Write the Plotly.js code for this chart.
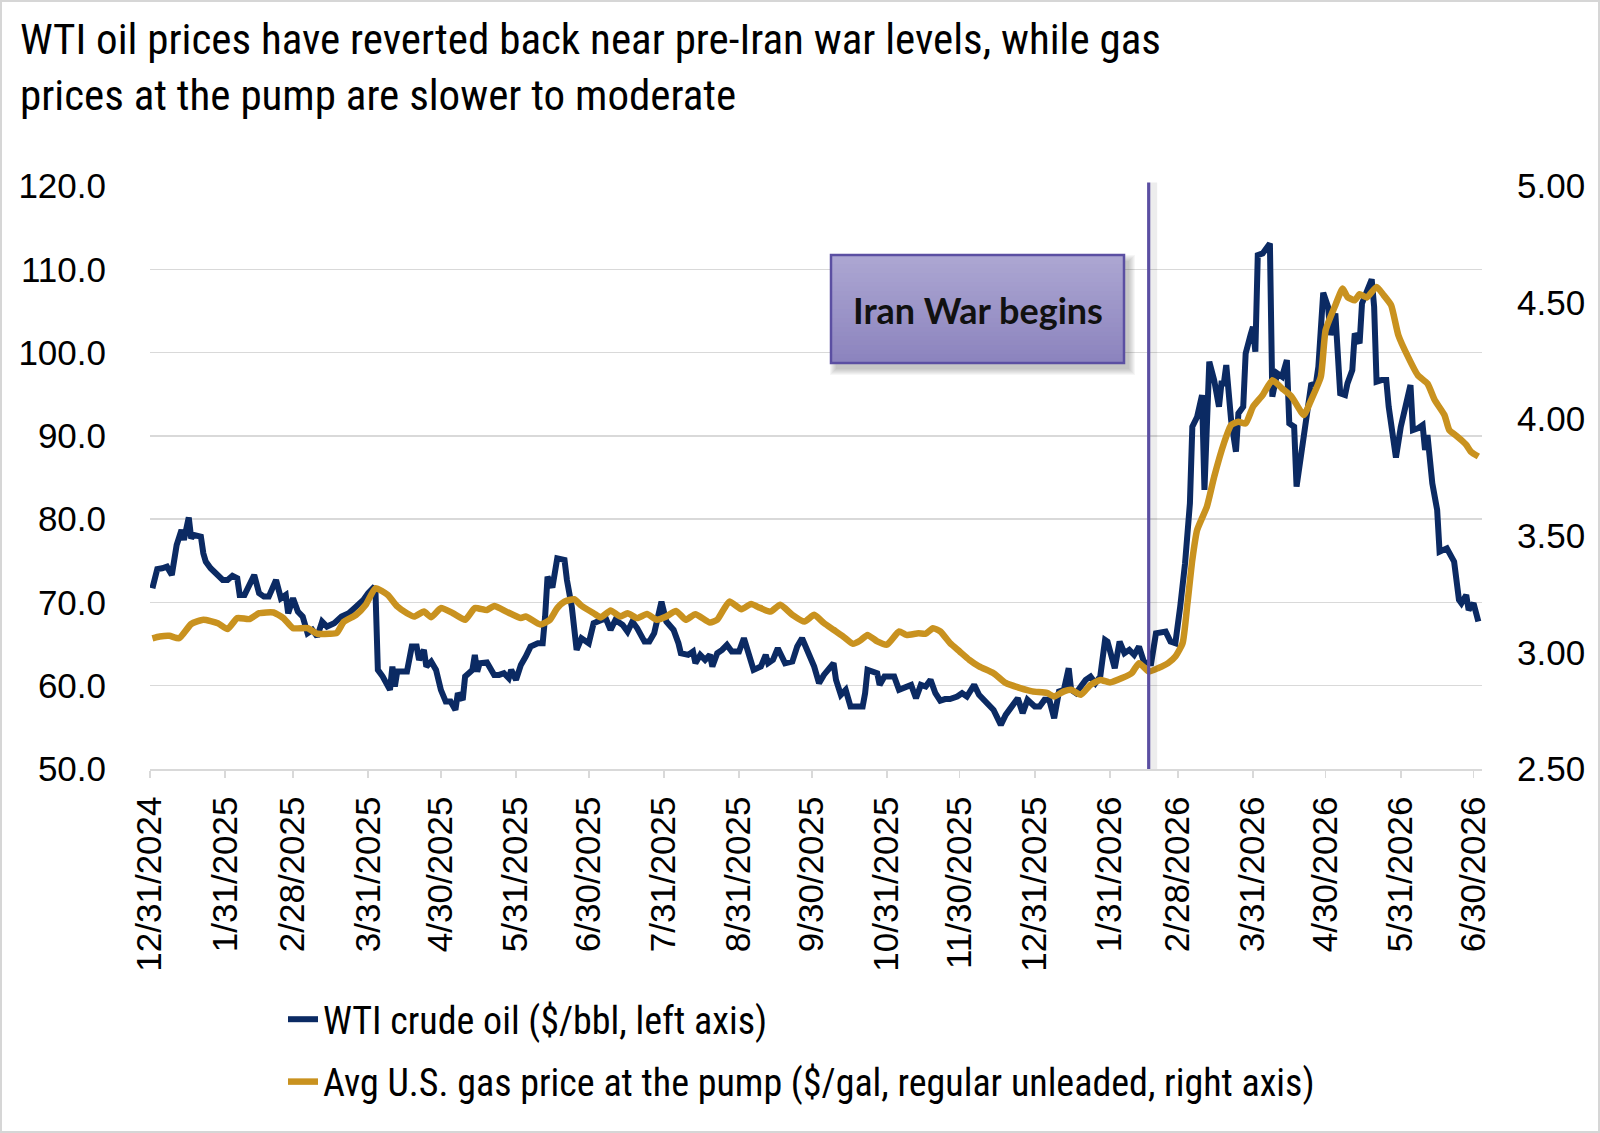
<!DOCTYPE html>
<html>
<head>
<meta charset="utf-8">
<script src="https://cdn.plot.ly/plotly-3.0.1.min.js"></script>
<style>
  html, body { margin: 0; padding: 0; background: #ffffff; overflow: hidden; }
  #wrap { position: relative; width: 1600px; height: 1133px; }
  #chart { width: 1600px; height: 1133px; }
  #frame { position: absolute; left: 0; top: 0; right: 0; bottom: 0; border: 2px solid #d6d6d6; pointer-events: none; }
</style>
</head>
<body>
<div id="wrap">
  <div id="chart"></div>
  <div id="frame"></div>
</div>
<script>
// WTI crude oil, $/bbl (left axis)
const wtiDates = [
  '2025-01-01','2025-01-03','2025-01-05','2025-01-07','2025-01-09','2025-01-11','2025-01-13','2025-01-14','2025-01-16','2025-01-17',
  '2025-01-18','2025-01-21','2025-01-22','2025-01-23','2025-01-25','2025-01-28','2025-01-30','2025-02-01','2025-02-03','2025-02-05',
  '2025-02-06','2025-02-08','2025-02-12','2025-02-14','2025-02-16','2025-02-18','2025-02-21','2025-02-23','2025-02-25','2025-02-26',
  '2025-02-28','2025-03-02','2025-03-04','2025-03-06','2025-03-08','2025-03-10','2025-03-12','2025-03-14','2025-03-17','2025-03-20',
  '2025-03-23','2025-03-26','2025-03-29','2025-03-31','2025-04-02','2025-04-03','2025-04-04','2025-04-06','2025-04-09','2025-04-10',
  '2025-04-11','2025-04-12','2025-04-16','2025-04-18','2025-04-20','2025-04-21','2025-04-23','2025-04-24','2025-04-26','2025-04-28',
  '2025-04-30','2025-05-02','2025-05-04','2025-05-06','2025-05-07','2025-05-09','2025-05-10','2025-05-13','2025-05-14','2025-05-15',
  '2025-05-16','2025-05-19','2025-05-22','2025-05-24','2025-05-26','2025-05-28','2025-05-29','2025-05-31','2025-06-02','2025-06-04',
  '2025-06-06','2025-06-09','2025-06-11','2025-06-12','2025-06-13','2025-06-15','2025-06-17','2025-06-20','2025-06-21','2025-06-23',
  '2025-06-25','2025-06-27','2025-06-30','2025-07-02','2025-07-05','2025-07-07','2025-07-09','2025-07-11','2025-07-14','2025-07-16',
  '2025-07-18','2025-07-20','2025-07-23','2025-07-25','2025-07-27','2025-07-29','2025-07-30','2025-08-01','2025-08-04','2025-08-06',
  '2025-08-07','2025-08-10','2025-08-12','2025-08-13','2025-08-15','2025-08-17','2025-08-19','2025-08-20','2025-08-22','2025-08-24',
  '2025-08-26','2025-08-28','2025-08-31','2025-09-02','2025-09-04','2025-09-06','2025-09-09','2025-09-11','2025-09-12','2025-09-14',
  '2025-09-16','2025-09-19','2025-09-22','2025-09-24','2025-09-26','2025-09-28','2025-10-01','2025-10-03','2025-10-05','2025-10-09',
  '2025-10-10','2025-10-12','2025-10-14','2025-10-16','2025-10-21','2025-10-22','2025-10-23','2025-10-27','2025-10-28','2025-10-30',
  '2025-11-03','2025-11-05','2025-11-08','2025-11-10','2025-11-12','2025-11-14','2025-11-16','2025-11-18','2025-11-20','2025-11-22',
  '2025-11-24','2025-11-26','2025-11-29','2025-12-01','2025-12-03','2025-12-06','2025-12-08','2025-12-10','2025-12-12','2025-12-14',
  '2025-12-17','2025-12-19','2025-12-22','2025-12-24','2025-12-26','2025-12-28','2025-12-31','2026-01-02','2026-01-04','2026-01-06',
  '2026-01-08','2026-01-10','2026-01-12','2026-01-14','2026-01-15','2026-01-17','2026-01-19','2026-01-21','2026-01-23','2026-01-25',
  '2026-01-27','2026-01-29','2026-01-30','2026-02-02','2026-02-04','2026-02-06','2026-02-08','2026-02-10','2026-02-12','2026-02-14',
  '2026-02-16','2026-02-17','2026-02-19','2026-02-23','2026-02-25','2026-02-27','2026-03-01','2026-03-03','2026-03-05','2026-03-06',
  '2026-03-08','2026-03-10','2026-03-11','2026-03-12','2026-03-13','2026-03-15','2026-03-17','2026-03-18','2026-03-19','2026-03-20',
  '2026-03-22','2026-03-24','2026-03-25','2026-03-27','2026-03-28','2026-03-30','2026-03-31','2026-04-01','2026-04-02','2026-04-04',
  '2026-04-07','2026-04-08','2026-04-10','2026-04-12','2026-04-14','2026-04-15','2026-04-17','2026-04-18','2026-04-20','2026-04-22',
  '2026-04-24','2026-04-26','2026-04-27','2026-04-29','2026-05-01','2026-05-02','2026-05-04','2026-05-06','2026-05-08','2026-05-09',
  '2026-05-11','2026-05-12','2026-05-14','2026-05-15','2026-05-17','2026-05-19','2026-05-20','2026-05-21','2026-05-23','2026-05-25',
  '2026-05-26','2026-05-28','2026-05-29','2026-05-31','2026-06-02','2026-06-04','2026-06-05','2026-06-07','2026-06-09','2026-06-10',
  '2026-06-11','2026-06-13','2026-06-15','2026-06-16','2026-06-19','2026-06-22','2026-06-24','2026-06-25','2026-06-27','2026-06-28',
  '2026-06-30','2026-07-02'
];
const wtiPrice = [
  71.7,74.0,74.1,74.3,73.3,76.9,78.7,77.5,80.2,77.7,
  78.1,77.9,75.9,74.9,74.1,73.1,72.7,72.7,73.2,72.9,
  70.9,70.9,73.3,71.1,70.7,70.7,72.7,70.5,70.9,68.7,
  70.5,68.9,68.3,66.3,66.7,65.9,67.7,67.1,67.5,68.3,
  68.7,69.5,70.3,71.1,71.7,71.5,61.9,61.1,59.5,62.3,
  59.9,61.7,61.7,64.7,64.7,63.1,64.3,62.3,62.9,61.9,
  59.5,58.1,58.1,57.1,59.1,58.3,61.1,61.9,63.7,61.7,
  62.7,62.8,61.3,61.3,61.5,60.9,61.9,60.7,62.5,63.5,
  64.7,65.1,65.1,68.3,73.1,71.8,75.3,75.1,72.7,69.5,
  64.3,65.7,65.1,67.5,67.9,68.1,66.7,67.9,67.3,66.5,
  67.7,66.9,65.3,65.3,66.3,68.7,70.1,67.7,66.7,65.1,
  63.9,63.7,64.1,62.7,63.7,63.1,63.7,62.3,63.9,64.3,
  64.9,64.1,64.1,65.7,63.5,61.9,62.3,63.7,62.7,63.1,
  64.5,62.7,62.9,64.7,65.7,64.5,62.3,60.3,61.3,62.7,
  60.7,58.9,59.5,57.5,57.5,59.1,61.9,61.5,60.1,61.1,
  61.1,59.5,59.9,60.1,58.5,60.1,59.9,60.7,59.1,58.2,
  58.4,58.4,58.7,59.1,58.7,60.1,58.9,58.3,57.7,57.1,
  55.3,56.5,57.7,58.5,56.7,58.3,57.5,57.5,58.3,58.3,
  56.1,59.3,59.5,62.1,59.5,59.1,59.9,60.7,61.1,60.3,
  61.1,65.5,65.3,62.1,65.3,63.9,64.3,63.7,64.7,62.9,
  62.7,62.7,66.3,66.5,65.3,65.1,69.5,74.7,81.9,91.1,
  92.3,94.9,83.5,90.3,98.9,96.7,93.5,96.3,96.3,98.5,
  91.9,88.1,92.7,93.5,99.9,102.1,103.1,100.1,111.7,111.9,
  113.1,94.7,97.5,97.1,99.1,91.5,91.1,83.9,88.3,92.3,
  96.1,96.3,98.3,107.2,105.5,102.1,104.7,95.1,94.9,96.3,
  97.9,102.3,101.1,105.9,107.5,108.8,105.5,96.5,96.7,96.7,
  93.5,88.7,87.4,91.1,93.5,96.1,90.7,90.9,91.3,88.3,
  90.1,84.3,81.1,76.1,76.5,74.9,70.3,69.9,70.9,69.1,
  69.9,67.7
];

// Average U.S. regular unleaded pump price, $/gal (right axis)
const gasDates = [
  '2025-01-01','2025-01-04','2025-01-08','2025-01-12','2025-01-17','2025-01-22','2025-01-28','2025-02-01','2025-02-05','2025-02-10',
  '2025-02-14','2025-02-20','2025-02-24','2025-02-28','2025-03-06','2025-03-10','2025-03-15','2025-03-18','2025-03-21','2025-03-26',
  '2025-03-30','2025-04-03','2025-04-08','2025-04-12','2025-04-16','2025-04-19','2025-04-23','2025-04-26','2025-04-30','2025-05-05',
  '2025-05-10','2025-05-14','2025-05-19','2025-05-22','2025-05-27','2025-06-02','2025-06-04','2025-06-10','2025-06-14','2025-06-17',
  '2025-06-20','2025-06-24','2025-06-27','2025-07-02','2025-07-05','2025-07-09','2025-07-13','2025-07-16','2025-07-20','2025-07-24',
  '2025-07-28','2025-08-01','2025-08-05','2025-08-09','2025-08-13','2025-08-19','2025-08-22','2025-08-27','2025-09-01','2025-09-05',
  '2025-09-08','2025-09-13','2025-09-17','2025-09-22','2025-09-27','2025-10-01','2025-10-05','2025-10-09','2025-10-13','2025-10-17',
  '2025-10-20','2025-10-23','2025-10-27','2025-10-31','2025-11-05','2025-11-08','2025-11-13','2025-11-16','2025-11-19','2025-11-22',
  '2025-11-26','2025-11-30','2025-12-04','2025-12-08','2025-12-14','2025-12-19','2025-12-25','2025-12-30','2026-01-05','2026-01-08',
  '2026-01-12','2026-01-15','2026-01-19','2026-01-23','2026-01-27','2026-01-31','2026-02-05','2026-02-09','2026-02-12','2026-02-16',
  '2026-02-20','2026-02-24','2026-02-27','2026-03-02','2026-03-04','2026-03-06','2026-03-08','2026-03-12','2026-03-15','2026-03-19',
  '2026-03-22','2026-03-25','2026-03-28','2026-03-31','2026-04-04','2026-04-08','2026-04-12','2026-04-16','2026-04-21','2026-04-24',
  '2026-04-28','2026-04-30','2026-05-04','2026-05-07','2026-05-09','2026-05-12','2026-05-14','2026-05-17','2026-05-21','2026-05-24',
  '2026-05-27','2026-05-30','2026-06-03','2026-06-07','2026-06-11','2026-06-14','2026-06-18','2026-06-20','2026-06-23','2026-06-25',
  '2026-06-27','2026-06-29','2026-07-02'
];
const gasPrice = [
  3.060,3.068,3.071,3.061,3.122,3.140,3.125,3.100,3.147,3.143,
  3.168,3.171,3.147,3.104,3.104,3.080,3.080,3.083,3.132,3.161,
  3.204,3.275,3.247,3.197,3.168,3.154,3.175,3.151,3.190,3.168,
  3.140,3.190,3.182,3.199,3.175,3.147,3.154,3.120,3.140,3.190,
  3.218,3.228,3.200,3.168,3.150,3.180,3.154,3.168,3.147,3.165,
  3.140,3.154,3.178,3.140,3.164,3.128,3.140,3.218,3.185,3.208,
  3.194,3.175,3.204,3.161,3.132,3.161,3.126,3.097,3.068,3.037,
  3.051,3.075,3.047,3.033,3.090,3.075,3.082,3.080,3.104,3.090,
  3.040,3.004,2.968,2.940,2.911,2.869,2.847,2.833,2.826,2.811,
  2.833,2.840,2.818,2.861,2.882,2.871,2.890,2.911,2.954,2.918,
  2.933,2.954,2.982,3.040,3.211,3.397,3.525,3.625,3.753,3.896,
  3.975,3.989,3.982,4.053,4.103,4.167,4.132,4.096,4.018,4.082,
  4.182,4.382,4.489,4.560,4.524,4.510,4.536,4.522,4.567,4.531,
  4.489,4.360,4.267,4.189,4.153,4.082,4.018,3.953,3.928,3.910,
  3.890,3.860,3.840
];

// Month-end axis ticks
const tickDates = [
  '2024-12-31','2025-01-31','2025-02-28','2025-03-31','2025-04-30','2025-05-31','2025-06-30',
  '2025-07-31','2025-08-31','2025-09-30','2025-10-31','2025-11-30','2025-12-31','2026-01-31',
  '2026-02-28','2026-03-31','2026-04-30','2026-05-31','2026-06-30'
];
const tickLabels = [
  '12/31/2024','1/31/2025','2/28/2025','3/31/2025','4/30/2025','5/31/2025','6/30/2025',
  '7/31/2025','8/31/2025','9/30/2025','10/31/2025','11/30/2025','12/31/2025','1/31/2026',
  '2/28/2026','3/31/2026','4/30/2026','5/31/2026','6/30/2026'
];

const warStart = '2026-02-16';
const warLabel = 'Iran War begins';
const seriesNames = ['WTI crude oil ($/bbl, left axis)',
                     'Avg U.S. gas price at the pump ($/gal, regular unleaded, right axis)'];
const chartTitle = 'WTI oil prices have reverted back near pre-Iran war levels, while gas<br>prices at the pump are slower to moderate';

// ---- layout geometry (pixels) ----
const W = 1600, H = 1133;
const M = { l: 150, r: 118, t: 186, b: 364, autoexpand: false };
const plotW = W - M.l - M.r, plotH = H - M.t - M.b;
const px2x = p => (p - M.l) / plotW;          // page x -> paper x
const py2y = p => (H - M.b - p) / plotH;       // page y -> paper y

const narrow = '"Liberation Sans Narrow", "Arial Narrow", "Roboto Condensed", "DejaVu Sans Condensed", Roboto, sans-serif';
const arial = '"Liberation Sans", Arial, sans-serif';

const traces = [
  {
    x: wtiDates, y: wtiPrice, name: seriesNames[0], type: 'scatter', mode: 'lines',
    line: { color: '#0b2a63', width: 6, shape: 'linear' }, yaxis: 'y', legendgroup: 'a', hoverinfo: 'x+y'
  },
  {
    x: gasDates, y: gasPrice, name: seriesNames[1], type: 'scatter', mode: 'lines',
    line: { color: '#c9921f', width: 6.5, shape: 'spline', smoothing: 0.5 }, yaxis: 'y2', legendgroup: 'b', hoverinfo: 'x+y'
  }
];

// callout box: soft shadow, vertical gradient fill, border
const box = { l: 831, r: 1124, t: 255, b: 363 };
const shapes = [];
for (let s = 6; s >= 0; s--) {
  shapes.push({
    type: 'rect', xref: 'paper', yref: 'paper', layer: 'above',
    x0: px2x(box.l + 5 - s), x1: px2x(box.r + 5 + s),
    y0: py2y(box.b + 6 + s), y1: py2y(box.t + 6 - s),
    line: { width: 0 }, fillcolor: 'rgba(70,70,70,0.05)'
  });
}
const c0 = [172, 166, 210], c1 = [140, 132, 190];
const bands = 24;
for (let i = 0; i < bands; i++) {
  const f = i / (bands - 1);
  const c = c0.map((v, k) => Math.round(v + (c1[k] - v) * f));
  const t = box.t + (box.b - box.t) * i / bands;
  const b = box.t + (box.b - box.t) * (i + 1) / bands;
  shapes.push({
    type: 'rect', xref: 'paper', yref: 'paper', layer: 'above',
    x0: px2x(box.l), x1: px2x(box.r), y0: py2y(b + 0.5), y1: py2y(t),
    line: { width: 0 }, fillcolor: 'rgb(' + c.join(',') + ')'
  });
}
shapes.push({
  type: 'rect', xref: 'paper', yref: 'paper', layer: 'above',
  x0: px2x(box.l), x1: px2x(box.r), y0: py2y(box.b), y1: py2y(box.t),
  line: { color: '#5b4fa2', width: 2.5 }, fillcolor: 'rgba(0,0,0,0)'
});
// event marker line with a faint shadow
shapes.push({
  type: 'line', xref: 'x', yref: 'paper', xsizemode: 'pixel', xanchor: warStart,
  x0: 5, x1: 5, y0: 0, y1: 1.006, layer: 'above',
  line: { color: 'rgba(0,0,0,0.07)', width: 7 }
});
shapes.push({
  type: 'line', xref: 'x', yref: 'paper', x0: warStart, x1: warStart, y0: 0, y1: 1.006, layer: 'above',
  line: { color: '#5b4fa2', width: 3.2 }
});

const layout = {
  width: W, height: H,
  margin: M,
  paper_bgcolor: '#ffffff', plot_bgcolor: '#ffffff',
  title: {
    text: chartTitle, xref: 'container', yref: 'container',
    x: 20 / W, xanchor: 'left', y: 1 - 54 / H, yanchor: 'top',
    font: { family: narrow, size: 43, color: '#000000' }
  },
  xaxis: {
    type: 'date', range: ['2024-12-31', '2026-07-03 12:00'],
    tickmode: 'array', tickvals: tickDates, ticktext: tickLabels, tickangle: -90,
    tickfont: { family: arial, size: 35, color: '#000000' },
    ticks: 'outside', ticklen: 7, tickwidth: 1.5, tickcolor: '#d9d9d9',
    ticklabelstandoff: 5,
    showline: true, linecolor: '#d9d9d9', linewidth: 1.5,
    showgrid: false, zeroline: false, fixedrange: true
  },
  yaxis: {
    range: [50, 120], dtick: 10, tick0: 50, tickformat: '.1f',
    tickfont: { family: arial, size: 35, color: '#000000' },
    ticks: '', ticklabelstandoff: 43,
    showgrid: true, gridcolor: '#d9d9d9', gridwidth: 1.5,
    showline: false, zeroline: false, fixedrange: true
  },
  yaxis2: {
    overlaying: 'y', side: 'right',
    range: [2.5, 5], dtick: 0.5, tick0: 2.5, tickformat: '.2f',
    tickfont: { family: arial, size: 35, color: '#000000' },
    ticks: '', ticklabelstandoff: 34,
    showgrid: false, showline: false, zeroline: false, fixedrange: true
  },
  showlegend: true,
  legend: {
    orientation: 'v', xref: 'container', yref: 'container',
    x: 283 / W, xanchor: 'left', y: 1 - 988 / H, yanchor: 'top',
    traceorder: 'grouped', tracegroupgap: 10,
    font: { family: narrow, size: 38, color: '#000000' },
    bgcolor: 'rgba(0,0,0,0)', borderwidth: 0
  },
  shapes: shapes,
  annotations: [{
    text: warLabel, xref: 'paper', yref: 'paper',
    x: px2x((box.l + box.r) / 2), y: py2y((box.t + box.b) / 2 + 1),
    xanchor: 'center', yanchor: 'middle', showarrow: false,
    font: { family: 'Lato, "Noto Sans", sans-serif', size: 36, color: '#111111', weight: 'bold' }
  }]
};

Plotly.newPlot('chart', traces, layout, { displayModeBar: false, staticPlot: true });
</script>
</body>
</html>
